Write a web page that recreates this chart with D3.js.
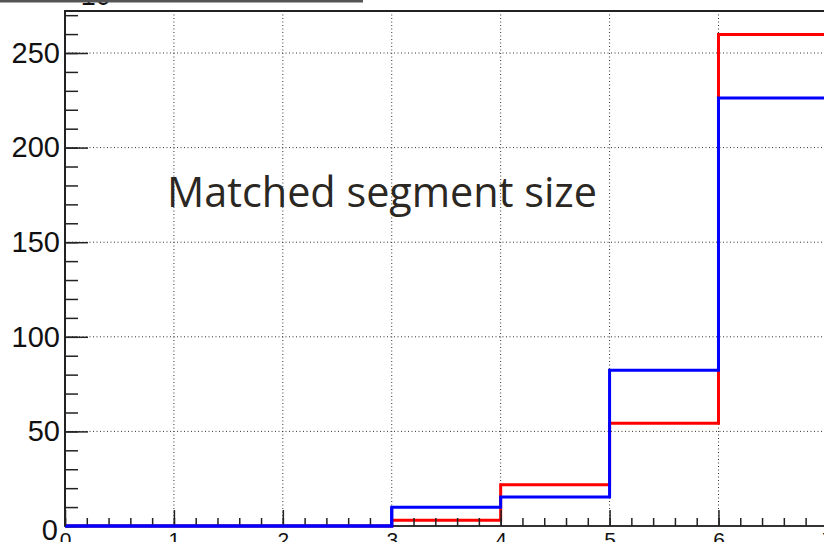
<!DOCTYPE html>
<html><head><meta charset="utf-8">
<script src="https://cdn.jsdelivr.net/npm/d3@7"></script>
<style>html,body{margin:0;padding:0;background:#fff;overflow:hidden}</style>
</head><body>
<svg id="c" width="824" height="542"></svg>
<script>
const binEdges = [0,1,2,3,4,5,6,7];
const redValues = [0,0,0,3.1,21.8,54.3,259.8];
const blueValues = [0,0,0,9.9,15.3,82.3,226.2];
const yMajorTicks = [0,50,100,150,200,250];
const xMajorTicks = [0,1,2,3,4,5,6,7];
const titleText = "Matched segment size";
const exponentText = "×10³";

const svg = d3.select("#c");
const x = d3.scaleLinear().domain([0,7]).range([65,827.4]);
const y = d3.scaleLinear().domain([0,250]).range([526,53]);
const yTop = y.invert(11);

// grid
const grid = svg.append("g");
grid.selectAll("line.v").data(xMajorTicks.filter(d=>d>0)).join("line")
  .attr("x1",d=>x(d)).attr("x2",d=>x(d)).attr("y1",11).attr("y2",526)
  .attr("stroke","#333").attr("stroke-width",1).attr("stroke-dasharray","1,2.5");
grid.selectAll("line.h").data(yMajorTicks.filter(d=>d>0)).join("line")
  .attr("x1",65).attr("x2",824).attr("y1",d=>y(d)).attr("y2",d=>y(d))
  .attr("stroke","#333").attr("stroke-width",1).attr("stroke-dasharray","1,2.5");

// title text
svg.append("text").attr("x",167).attr("y",206.5)
  .attr("font-family","'Open Sans', Lato, sans-serif").attr("font-size",42)
  .attr("fill","#2b2722").attr("textLength",430).attr("lengthAdjust","spacingAndGlyphs")
  .text(titleText);

// histograms
const pts = vals => { const p = vals.map((v,i)=>[binEdges[i],v]); p.push([binEdges[binEdges.length-1], vals[vals.length-1]]); p.push([binEdges[binEdges.length-1],0]); return p; };
const line = d3.line().x(d=>x(d[0])).y(d=>y(d[1])).curve(d3.curveStepAfter);

// baseline axis
svg.append("line").attr("x1",64).attr("x2",824).attr("y1",526).attr("y2",526).attr("stroke","#333").attr("stroke-width",2);

svg.append("path").attr("d",line(pts(redValues))).attr("fill","none").attr("stroke","#ff0000").attr("stroke-width",3);
svg.append("path").attr("d",line(pts(blueValues))).attr("fill","none").attr("stroke","#0000ff").attr("stroke-width",3);

// axes
const yMinor = d3.range(0,yTop,10);
const gyMinor = svg.append("g").attr("transform","translate(65,0)")
  .call(d3.axisLeft(y).tickValues(yMinor).tickSizeInner(-13).tickSizeOuter(0).tickFormat(""));
const gyMajor = svg.append("g").attr("transform","translate(65,0)")
  .call(d3.axisLeft(y).tickValues(yMajorTicks).tickSizeInner(-23).tickSizeOuter(0).tickPadding(5).tickFormat(d3.format("d")));
[gyMinor,gyMajor].forEach(g=>{g.select(".domain").remove(); g.selectAll("line").attr("stroke","#222").attr("stroke-width",1.5);});
gyMajor.selectAll("text").attr("font-family","'Liberation Sans', Arial, sans-serif").attr("font-size",29).attr("fill","#111");
gyMajor.selectAll(".tick").filter(d=>d===0).select("text").attr("x",-7).attr("dy","0.45em");

const xMinor = d3.range(0,7.01,0.2);
const gxMinor = svg.append("g").attr("transform","translate(0,526)")
  .call(d3.axisBottom(x).tickValues(xMinor).tickSizeInner(-8).tickSizeOuter(0).tickFormat(""));
const gxMajor = svg.append("g").attr("transform","translate(0,526)")
  .call(d3.axisBottom(x).tickValues(xMajorTicks).tickSizeInner(-16).tickSizeOuter(0).tickPadding(6).tickFormat(d3.format("d")));
[gxMinor,gxMajor].forEach(g=>{g.select(".domain").remove(); g.selectAll("line").attr("stroke","#222").attr("stroke-width",1.5);});
gxMajor.selectAll("text").attr("font-family","'Liberation Sans', Arial, sans-serif").attr("font-size",21).attr("fill","#111");

// redraw blue on top of ticks at baseline
svg.append("path").attr("d",line(pts(blueValues).slice(0,4))).attr("fill","none").attr("stroke","#0000ff").attr("stroke-width",3);

// frame
svg.append("line").attr("x1",65).attr("x2",65).attr("y1",11).attr("y2",526).attr("stroke","#222").attr("stroke-width",2);
svg.append("line").attr("x1",64).attr("x2",824).attr("y1",11).attr("y2",11).attr("stroke","#222").attr("stroke-width",2);

// exponent label (clipped at top)
svg.append("text").attr("x",65).attr("y",5).attr("font-family","'Liberation Sans', Arial, sans-serif")
  .attr("font-size",27).attr("fill","#111").text(exponentText);
svg.append("rect").attr("x",0).attr("y",0).attr("width",363).attr("height",2.5).attr("fill","#555");
</script>
</body></html>
